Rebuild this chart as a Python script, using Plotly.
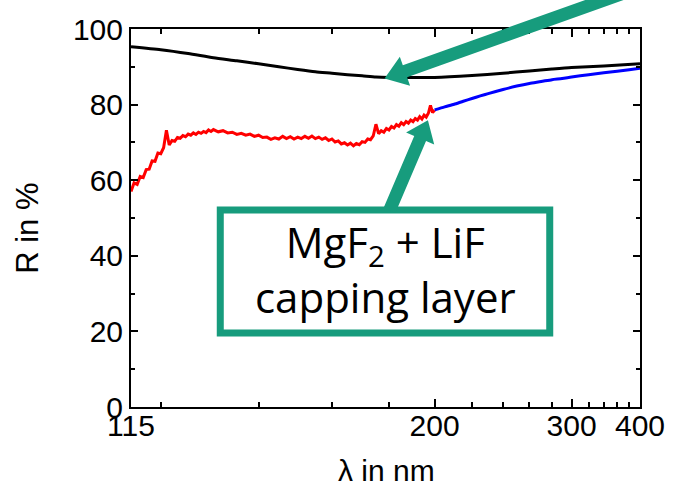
import numpy as np
import plotly.graph_objects as go

# ---------------- data ----------------
black_wl = [115, 120, 125, 130, 135, 140, 145, 150, 155, 160, 165, 170, 175, 180,
            190, 200, 220, 240, 260, 280, 300, 340, 400]
black_R = [95.3, 94.5, 93.5, 92.4, 91.6, 90.8, 90.0, 89.3, 88.7, 88.3, 87.9, 87.6, 87.3, 87.2,
           87.2, 87.2, 87.7, 88.3, 88.9, 89.4, 89.8, 90.2, 90.8]

red_wl = [115.0, 115.5, 116.0, 116.5, 117.0, 117.5, 118.0, 118.5, 119.0, 119.5,
          120.0, 120.5, 121.0, 121.5, 122.0, 122.5, 123.0, 123.5, 124.0, 124.5,
          125.0, 125.5, 126.0, 126.5, 127.0, 127.5, 128.0, 128.5, 129.0, 129.5,
          130, 131, 132, 133, 134, 135, 136, 137, 138, 139, 140, 141, 142, 143, 144,
          145, 146, 147, 148, 149, 150, 151, 152, 153, 154, 155, 156, 157, 158, 159,
          160, 161, 162, 163, 164, 165, 166, 167, 168, 169, 170, 171, 172, 173, 174,
          175, 176, 177, 178, 179, 180, 181, 182, 183, 184, 185, 186, 187, 188, 189,
          190, 191, 192, 193, 194, 195, 196, 197, 198, 199, 200]
red_R = [57.0, 59.3, 58.9, 61.0, 60.7, 62.8, 62.9, 65.1, 65.0, 67.2,
         67.0, 68.6, 73.2, 69.3, 70.5, 70.3, 71.3, 71.1, 71.8, 71.5,
         72.2, 71.9, 72.5, 72.1, 72.7, 72.4, 72.9, 72.6, 73.3, 72.9,
         73.4, 72.8, 73.1, 72.5, 72.7, 72.1, 72.4, 71.9, 72.2, 71.6, 71.9, 71.3, 71.4, 70.8, 71.2,
         70.9, 71.6, 71.0, 71.5, 70.9, 71.4, 71.0, 71.6, 71.1, 71.7, 71.0, 71.4, 70.8, 71.2, 70.5,
         70.9, 70.1, 70.4, 69.6, 69.9, 69.3, 69.8, 69.1, 69.7, 69.4, 70.2, 70.0, 70.9, 70.7, 71.7,
         74.8, 72.3, 73.1, 72.7, 73.7, 73.3, 74.2, 73.8, 74.7, 74.3, 75.2, 74.7, 75.5, 75.1, 75.9,
         75.5, 76.3, 75.9, 76.8, 76.2, 77.2, 76.7, 77.7, 79.8, 77.9, 78.5]

blue_wl = [200, 205, 210, 215, 220, 225, 230, 240, 250, 260, 270, 280, 290, 300,
           320, 340, 360, 380, 400]
blue_R = [78.6, 79.4, 80.1, 80.9, 81.6, 82.3, 82.9, 84.0, 84.9, 85.6, 86.1, 86.6, 86.9, 87.3,
          87.9, 88.4, 88.8, 89.2, 89.6]

x_major = [115, 200, 300, 400]
x_major_text = ["115", "200", "300", "400"]
x_minor = [120, 140, 160, 180, 220, 240, 260, 280, 320, 340, 360, 380]
y_major = [0, 20, 40, 60, 80, 100]

TEAL = "#179C7D"
SANS = "Liberation Sans, Arial, sans-serif"
TICKFONT = dict(family=SANS, size=30, color="black")

def inv(v):
    return (1.0 / np.asarray(v, dtype=float)).tolist()

# ---------------- figure ----------------
W, H = 677, 494
ML, MR, MT, MB = 131, 30, 26, 87
PW, PH = W - ML - MR, H - MT - MB

def px(x, y):
    return ((x - ML) / PW, (H - MB - y) / PH)

def arrow_path(tip, tail, shaft_w, head_w, head_len):
    t = np.array(tip, float)
    e = np.array(tail, float)
    d = (e - t) / np.linalg.norm(e - t)
    n = np.array([-d[1], d[0]])
    b = t + d * head_len
    pts = [t, b + n * head_w / 2, b + n * shaft_w / 2, e + n * shaft_w / 2,
           e - n * shaft_w / 2, b - n * shaft_w / 2, b - n * head_w / 2]
    s = ""
    for i, p in enumerate(pts):
        xp, yp = px(p[0], p[1])
        s += ("M" if i == 0 else "L") + f"{xp:.5f},{yp:.5f} "
    return s + "Z"

fig = go.Figure()
fig.add_trace(go.Scatter(x=inv(black_wl), y=black_R, mode="lines",
                         line=dict(color="black", width=3, shape="spline", smoothing=0.6),
                         showlegend=False))
fig.add_trace(go.Scatter(x=inv(red_wl), y=red_R, mode="lines",
                         line=dict(color="#ff0000", width=3), showlegend=False))
fig.add_trace(go.Scatter(x=inv(blue_wl), y=blue_R, mode="lines",
                         line=dict(color="#0000ff", width=3, shape="spline", smoothing=0.6),
                         showlegend=False))

fig.update_layout(
    width=W, height=H,
    margin=dict(l=ML, r=MR, t=MT, b=MB),
    paper_bgcolor="white", plot_bgcolor="white",
    showlegend=False,
    xaxis=dict(range=[1 / 115, 1 / 400], tickmode="array", tickvals=inv(x_major),
               ticktext=x_major_text, ticks="inside", ticklen=8, tickwidth=2,
               tickcolor="black", showline=True, linecolor="black", linewidth=2,
               mirror="ticks", showgrid=False, zeroline=False, tickfont=TICKFONT,
               ticklabelstandoff=-9,
               minor=dict(tickmode="array", tickvals=inv(x_minor), ticks="inside",
                          ticklen=5, tickwidth=2, tickcolor="black", showgrid=False)),
    yaxis=dict(range=[0, 100], tickmode="array", tickvals=y_major,
               ticks="inside", ticklen=7, tickwidth=2, tickcolor="black",
               showline=True, linecolor="black", linewidth=2, mirror="ticks",
               showgrid=False, zeroline=False, tickfont=TICKFONT,
               minor=dict(dtick=10, ticks="inside", ticklen=4, tickwidth=2,
                          tickcolor="black", showgrid=False)),
)

# axis titles
xt, yt = px(26, 227)
fig.add_annotation(text="R in %", xref="paper", yref="paper", x=xt, y=yt,
                   textangle=-90, showarrow=False, xanchor="center", yanchor="middle",
                   font=dict(family=SANS, size=31, color="black"))
xt, yt = px(390, 471)
fig.add_annotation(text="λ in nm", xref="paper", yref="paper", x=xt, y=yt,
                   showarrow=False, xanchor="center", yanchor="middle",
                   font=dict(family=SANS, size=30, color="black"))

# box
x0, y0 = px(221.5, 332.5)
x1, y1 = px(555.5, 208.5)
fig.add_shape(type="rect", xref="paper", yref="paper", x0=x0, y0=y0, x1=x1, y1=y1,
              line=dict(color=TEAL, width=7), fillcolor="white", layer="above")

# arrows
fig.add_shape(type="path", xref="paper", yref="paper",
              path=arrow_path((388, 76), (720, -42), 13, 31, 22),
              fillcolor=TEAL, line=dict(width=0), layer="above")
fig.add_shape(type="path", xref="paper", yref="paper",
              path=arrow_path((432, 118), (393, 209), 13, 31, 20),
              fillcolor=TEAL, line=dict(width=0), layer="above")

xt, yt = px(388.5, 268)
fig.add_annotation(text="MgF<sub>2</sub> + LiF<br>capping layer", xref="paper", yref="paper",
                   x=xt, y=yt, showarrow=False, xanchor="center", yanchor="middle",
                   align="center",
                   font=dict(family="Open Sans, Noto Sans, sans-serif", size=42, color="black"))

fig.write_html("out.html")
